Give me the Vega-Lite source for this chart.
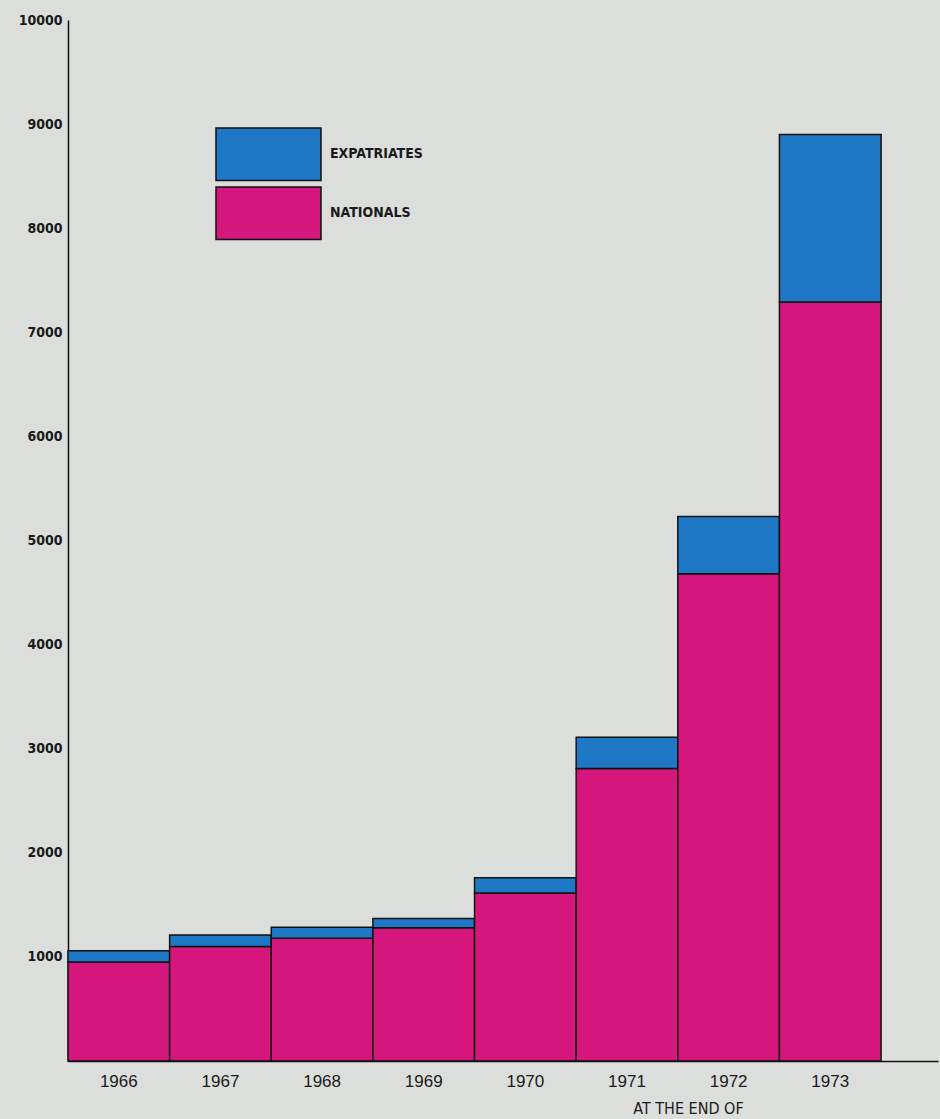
{
  "$schema": "https://vega.github.io/schema/vega-lite/v6.json",
  "width": 870,
  "height": 1041,
  "autosize": "none",
  "padding": {"left": 68, "top": 20, "right": 2, "bottom": 58},
  "background": "#dcdedc",
  "data": {
    "values": [
      {"year": "1966", "group": "NATIONALS", "staff": 950},
      {"year": "1966", "group": "EXPATRIATES", "staff": 110},
      {"year": "1967", "group": "NATIONALS", "staff": 1100},
      {"year": "1967", "group": "EXPATRIATES", "staff": 110},
      {"year": "1968", "group": "NATIONALS", "staff": 1180},
      {"year": "1968", "group": "EXPATRIATES", "staff": 105},
      {"year": "1969", "group": "NATIONALS", "staff": 1280},
      {"year": "1969", "group": "EXPATRIATES", "staff": 90},
      {"year": "1970", "group": "NATIONALS", "staff": 1615},
      {"year": "1970", "group": "EXPATRIATES", "staff": 145},
      {"year": "1971", "group": "NATIONALS", "staff": 2810},
      {"year": "1971", "group": "EXPATRIATES", "staff": 300},
      {"year": "1972", "group": "NATIONALS", "staff": 4680},
      {"year": "1972", "group": "EXPATRIATES", "staff": 550},
      {"year": "1973", "group": "NATIONALS", "staff": 7290},
      {"year": "1973", "group": "EXPATRIATES", "staff": 1610}
    ]
  },
  "mark": {"type": "bar", "stroke": "#111111", "strokeWidth": 1.5, "cornerRadius": 0},
  "encoding": {
    "x": {
      "field": "year",
      "type": "nominal",
      "scale": {"paddingInner": 0, "paddingOuter": 0.28, "align": 0},
      "axis": {
        "title": "AT THE END OF",
        "labelAngle": 0,
        "ticks": false,
        "domainColor": "#111111",
        "domainWidth": 1.5,
        "labelFont": "Liberation Sans",
        "labelFontSize": 17,
        "labelColor": "#1a1a1a",
        "labelPadding": 12,
        "titleFont": "DejaVu Sans Condensed",
        "titleFontSize": 16,
        "titleFontWeight": "normal",
        "titleColor": "#1a1a1a",
        "titleX": 620,
        "titleY": 47,
        "titleAlign": "center",
        "titleBaseline": "middle"
      }
    },
    "y": {
      "field": "staff",
      "type": "quantitative",
      "stack": "zero",
      "scale": {"domain": [0, 10000], "nice": false},
      "axis": {
        "title": null,
        "values": [1000, 2000, 3000, 4000, 5000, 6000, 7000, 8000, 9000, 10000],
        "format": "d",
        "grid": false,
        "ticks": false,
        "domainColor": "#111111",
        "domainWidth": 1.5,
        "labelFont": "DejaVu Sans Condensed",
        "labelFontWeight": "bold",
        "labelFontSize": 14,
        "labelColor": "#1a1a1a",
        "labelPadding": 6
      }
    },
    "color": {
      "field": "group",
      "type": "nominal",
      "scale": {"domain": ["EXPATRIATES", "NATIONALS"], "range": ["#1e78c6", "#d5177d"]},
      "legend": {
        "title": null,
        "orient": "none",
        "legendX": 147,
        "legendY": 107,
        "symbolType": "M-1,-1H1V0H-1Z",
        "symbolSize": 11025,
        "symbolStrokeColor": "#111111",
        "symbolStrokeWidth": 1.5,
        "symbolOpacity": 1,
        "rowPadding": 0,
        "labelFont": "DejaVu Sans Condensed",
        "labelFontWeight": "bold",
        "labelFontSize": 14,
        "labelColor": "#1a1a1a",
        "labelOffset": 8,
        "labelBaseline": "bottom",
        "encode": {"labels": {"update": {"dy": {"value": -20}}}}
      }
    },
    "order": {"field": "group", "sort": "descending"}
  },
  "config": {"view": {"stroke": null}}
}
